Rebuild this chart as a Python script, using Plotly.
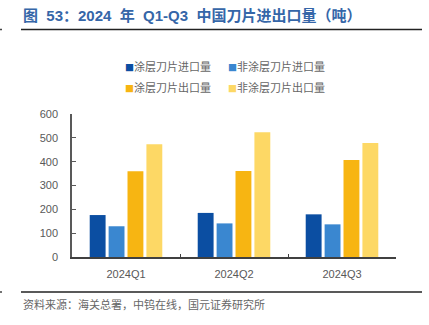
import plotly.graph_objects as go

# Quarterly blade import/export volume (tonnes)
quarters = ["2024Q1", "2024Q2", "2024Q3"]
series_names = ["涂层刀片进口量", "非涂层刀片进口量", "涂层刀片出口量", "非涂层刀片出口量"]
coated_import = [176, 185, 179]
uncoated_import = [129, 141, 137]
coated_export = [360, 361, 407]
uncoated_export = [473, 523, 478]
y_ticks = [0, 100, 200, 300, 400, 500, 600]

colors = ["#0b4ea2", "#3a87d0", "#f7b512", "#fdd865"]
values = [coated_import, uncoated_import, coated_export, uncoated_export]

W, H = 429, 325
L, R, T, B = 72, 33, 114, 68

fig = go.Figure()
for name, vals, col in zip(series_names, values, colors):
    fig.add_trace(go.Bar(x=quarters, y=vals, name=name, marker_color=col,
                         marker_line_width=0, showlegend=False))

cjk = "Noto Sans CJK SC"
mixed = "Liberation Sans, Noto Sans CJK SC"
nb = "\u00a0"


def px_x(px):
    return (px - L) / (W - L - R)


def px_y(py):
    return (H - B - py) / (H - T - B)


# Title and rules
title = f"图{nb*2}53：2024{nb*2}年{nb*2}Q1-Q3{nb*2}中国刀片进出口量（吨）"
fig.add_annotation(text=f"<b>{title}</b>",
                   xref="paper", yref="paper", x=px_x(21), y=px_y(16),
                   xanchor="left", yanchor="middle", showarrow=False,
                   font=dict(family=mixed, size=15, color="#3566a8"))
fig.add_annotation(text="资料来源：海关总署，中钨在线，国元证券研究所",
                   xref="paper", yref="paper", x=px_x(21), y=px_y(304),
                   xanchor="left", yanchor="middle", showarrow=False,
                   font=dict(family=cjk, size=11, color="#666666"))

for yy in (29.5, 292):
    fig.add_shape(type="line", xref="paper", yref="paper",
                  x0=px_x(21), x1=px_x(422), y0=px_y(yy), y1=px_y(yy),
                  line=dict(color="#222222", width=1.5))
    fig.add_shape(type="line", xref="paper", yref="paper",
                  x0=px_x(0), x1=px_x(2), y0=px_y(yy), y1=px_y(yy),
                  line=dict(color="#444444", width=1.5))

# Legend laid out in two rows
legend_pos = [(123, 66), (226, 66), (123, 87), (226, 87)]
for name, col, (lx, ly) in zip(series_names, colors, legend_pos):
    fig.add_annotation(text=f"<span style='color:{col};font-size:9px'>■</span>{name}",
                       xref="paper", yref="paper", x=px_x(lx), y=px_y(ly),
                       xanchor="left", yanchor="middle", showarrow=False,
                       font=dict(family=cjk, size=11, color="#666666"))

fig.update_layout(
    width=W, height=H,
    margin=dict(l=L, r=R, t=T, b=B),
    paper_bgcolor="white", plot_bgcolor="white",
    barmode="group", bargap=0.3, bargroupgap=0.16,
    font=dict(family="Liberation Sans", size=11, color="#595959"),
    xaxis=dict(showline=True, linecolor="#404040", linewidth=1.5,
               ticks="inside", ticklen=3, tickcolor="#404040", tickson="boundaries",
               showgrid=False, ticklabelstandoff=6,
               tickfont=dict(family="Liberation Sans", size=11, color="#595959")),
    yaxis=dict(range=[0, 600], tickvals=y_ticks, showline=True, linecolor="#595959",
               linewidth=1.5, ticks="inside", ticklen=4, tickcolor="#595959",
               showgrid=False, zeroline=False, ticklabelstandoff=10,
               tickfont=dict(family="Liberation Sans", size=11, color="#595959")),
)

fig.write_html("out.html")
